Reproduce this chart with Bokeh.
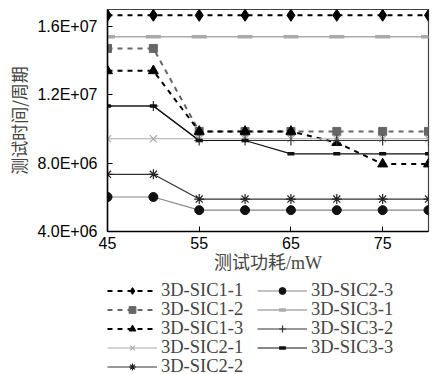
from bokeh.plotting import figure
from bokeh.models import Range1d, FixedTicker, Legend, LegendItem
from bokeh.layouts import column
from bokeh.embed import file_html
from bokeh.resources import INLINE

power = [45, 50, 55, 60, 65, 70, 75, 80]
sic1_1 = [1.666e7, 1.666e7, 1.666e7, 1.666e7, 1.666e7, 1.666e7, 1.666e7, 1.666e7]
sic1_2 = [1.472e7, 1.472e7, 9.86e6, 9.86e6, 9.86e6, 9.86e6, 9.86e6, 9.86e6]
sic1_3 = [1.341e7, 1.341e7, 9.86e6, 9.86e6, 9.86e6, 9.21e6, 7.95e6, 7.95e6]
sic2_1 = [9.43e6, 9.43e6, 9.43e6, 9.43e6, 9.43e6, 9.43e6, 9.43e6, 9.43e6]
sic2_2 = [7.35e6, 7.35e6, 5.9e6, 5.9e6, 5.9e6, 5.9e6, 5.9e6, 5.9e6]
sic2_3 = [6.02e6, 6.02e6, 5.25e6, 5.25e6, 5.25e6, 5.25e6, 5.25e6, 5.25e6]
sic3_1 = [1.541e7, 1.541e7, 1.541e7, 1.541e7, 1.541e7, 1.541e7, 1.541e7, 1.541e7]
sic3_2 = [1.135e7, 1.135e7, 9.33e6, 9.33e6, 9.33e6, 9.33e6, 9.33e6, 9.33e6]
sic3_3 = [1.135e7, 1.135e7, 9.33e6, 9.33e6, 8.55e6, 8.55e6, 8.55e6, 8.55e6]

x_ticks = [45, 55, 65, 75]
y_ticks = [4e6, 8e6, 1.2e7, 1.6e7]
y_tick_labels = ["4.0E+06", "8.0E+06", "1.2E+07", "1.6E+07"]

names = ["3D-SIC1-1", "3D-SIC1-2", "3D-SIC1-3", "3D-SIC2-1", "3D-SIC2-2",
         "3D-SIC2-3", "3D-SIC3-1", "3D-SIC3-2", "3D-SIC3-3"]

W = 442
H_MAIN = 280
H_LEG = 94

p = figure(width=W, height=H_MAIN, output_backend="svg", toolbar_location=None,
           x_range=Range1d(45, 80), y_range=Range1d(4e6, 1.7e7),
           min_border_left=107, min_border_right=14, min_border_top=9,
           min_border_bottom=49)
p.grid.visible = False
p.outline_line_color = "#444444"
p.outline_line_width = 1.2

# style: (values, line_color, dash, line_width, marker, marker_color, size, marker_line_width, legend size)
styles = [
    (sic1_1, "#000000", "5 5", 2, "diamond", "#000000", 12, 1, 10),
    (sic1_2, "#666666", "5 5", 2, "square", "#666666", 8, 1, 7),
    (sic1_3, "#000000", "5 5", 2, "triangle", "#000000", 10, 1, 9),
    (sic2_1, "#aaaaaa", "solid", 1.2, "x", "#aaaaaa", 10, 1.2, 9),
    (sic2_2, "#333333", "solid", 1.2, "asterisk", "#222222", 10, 1.2, 9),
    (sic2_3, "#888888", "solid", 1.2, "circle", "#111111", 9, 1, 7),
    (sic3_1, "#aaaaaa", "solid", 1.5, "dash", "#aaaaaa", 15, 3.5, 8),
    (sic3_2, "#333333", "solid", 1.2, "cross", "#333333", 10, 1.2, 10),
    (sic3_3, "#111111", "solid", 1.2, "dash", "#111111", 7, 3.5, 6),
]

for vals, lc, dash, lw, mk, mc, sz, mlw, lsz in styles:
    p.line(power, vals, line_color=lc, line_dash=dash, line_width=lw)
    p.scatter(power, vals, marker=mk, size=sz, fill_color=mc, line_color=mc,
              line_width=mlw)

p.xaxis.ticker = FixedTicker(ticks=x_ticks)
p.yaxis.ticker = FixedTicker(ticks=y_ticks)
p.yaxis.major_label_overrides = {t: l for t, l in zip(y_ticks, y_tick_labels)}
for ax in (p.xaxis, p.yaxis):
    ax.major_tick_in = 5
    ax.major_tick_out = 0
    ax.minor_tick_in = 0
    ax.minor_tick_out = 0
    ax.axis_line_width = 1.5
    ax.axis_line_color = "#000000"
    ax.major_tick_line_color = "#000000"
    ax.major_label_text_font = "Liberation Sans"
    ax.major_label_text_font_size = "16px"
    ax.major_label_text_color = "#000000"
    ax.major_label_standoff = 5

p.xaxis.axis_label = "测试功耗/mW"
p.xaxis.axis_label_text_font = "Liberation Serif, Noto Sans CJK SC"
p.xaxis.axis_label_text_font_style = "normal"
p.xaxis.axis_label_text_font_size = "18px"
p.xaxis.axis_label_standoff = 1
p.yaxis.axis_label = "测试时间/周期"
p.yaxis.axis_label_text_font = "Noto Sans CJK SC"
p.yaxis.axis_label_text_font_style = "normal"
p.yaxis.axis_label_text_font_size = "17px"
p.yaxis.axis_label_standoff = 3
p.yaxis.major_label_standoff = 10

# legend panel below the chart (its frame is aligned with the chart frame);
# the sample renderers hold the real series but lie outside this panel's ranges
q = figure(width=W, height=H_LEG, output_backend="svg", toolbar_location=None,
           x_range=Range1d(0, 1), y_range=Range1d(0, 1),
           x_axis_location=None, y_axis_location=None,
           min_border_left=0, min_border_right=0, min_border_top=0,
           min_border_bottom=0)
q.grid.visible = False
q.outline_line_color = None

items = []
for name, (vals, lc, dash, lw, mk, mc, sz, mlw, lsz) in zip(names, styles):
    r1 = q.line(power, vals, line_color=lc, line_dash=dash, line_width=lw)
    r2 = q.scatter(power, vals, marker=mk, size=lsz, fill_color=mc, line_color=mc,
                   line_width=mlw)
    items.append(LegendItem(label=name, renderers=[r1, r2]))

# two columns, five rows: one horizontal legend per row
n_rows = 5
row_pitch = 19
first_center = 10
for i in range(n_rows):
    row_items = [items[i]] + ([items[i + n_rows]] if i + n_rows < len(items) else [])
    bottom = H_LEG - (first_center + i * row_pitch + 10.5)
    lg = Legend(items=row_items, location=(0, bottom), orientation="horizontal",
                border_line_color=None, background_fill_alpha=0,
                label_text_font="Liberation Serif", label_text_font_size="18.5px",
                glyph_width=50, glyph_height=17, label_height=17, label_width=96,
                spacing=0, padding=0, margin=0, label_standoff=4)
    q.add_layout(lg)

layout = column(p, q, spacing=0)
open("out.html", "w").write(file_html(layout, INLINE))
